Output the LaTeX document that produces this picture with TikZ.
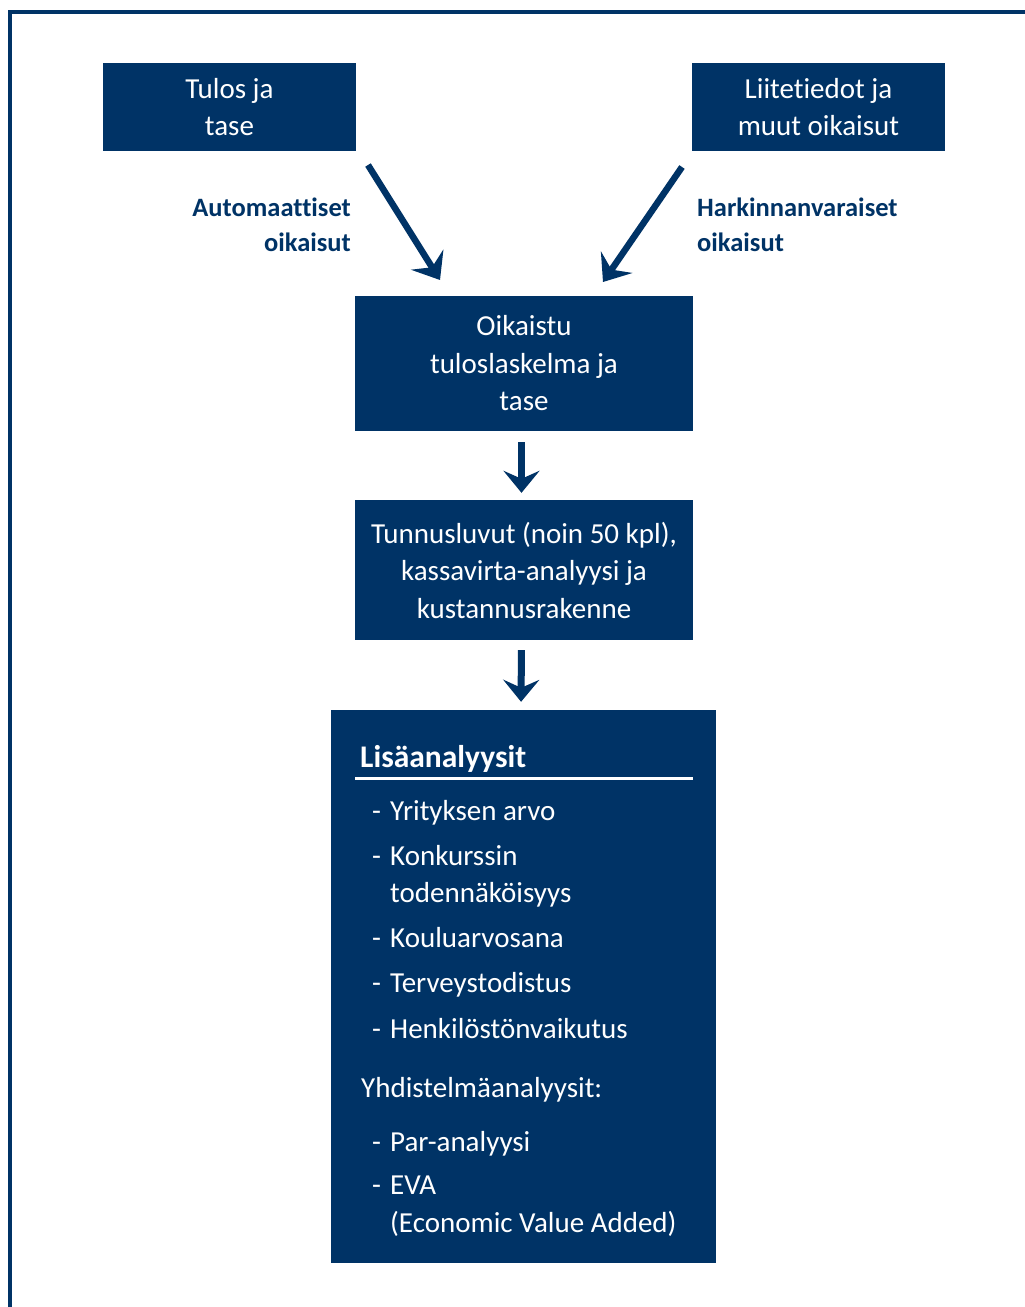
\documentclass[tikz,border=0pt]{standalone}
\usepackage{fontspec}
\setmainfont{Carlito}[Ligatures=NoCommon]
\usetikzlibrary{arrows.meta}
\definecolor{navy}{RGB}{0,51,102}
\begin{document}
\begin{tikzpicture}[x=1pt,y=-1pt,
 box/.style={fill=navy, text=white, align=center, inner sep=0pt, font=\fontsize{29}{37.5}\selectfont},
 lab/.style={text=navy, inner sep=0pt, font=\bfseries\fontsize{26.5}{35}\selectfont},
 arr/.style={draw=navy, line width=6.5pt, -{Stealth[length=24pt,width=38pt,inset=9pt]}},
 item/.style={text=white, anchor=base west, inner sep=0pt, font=\fontsize{29}{35}\selectfont},
 head/.style={text=white, anchor=base west, inner sep=0pt, font=\bfseries\fontsize{31.5}{35}\selectfont},
]
\useasboundingbox (0,0) rectangle (1025,1307);
\fill[white] (0,0) rectangle (1025,1307);
% frame
\draw[navy, line width=4pt] (1025,12) -- (10,12) -- (10,1307);

% boxes
\node[box, minimum width=253pt, minimum height=88pt] (b1) at (229.5,107) {Tulos ja\\tase};
\node[box, minimum width=253pt, minimum height=88pt] (b2) at (818.5,107) {Liitetiedot ja\\muut oikaisut};
\node[box, minimum width=338pt, minimum height=135pt] (b3) at (524,363.5) {Oikaistu\\tuloslaskelma ja\\tase};
\node[box, minimum width=338pt, minimum height=140pt] (b4) at (524,570) {Tunnusluvut (noin 50 kpl),\\kassavirta-analyysi ja\\kustannusrakenne};
\node[box, minimum width=385pt, minimum height=553pt] (b5) at (523.5,986.5) {};

% labels
\node[lab, align=right, anchor=east] (l1) at (351,225) {Automaattiset\\oikaisut};
\node[lab, align=left, anchor=west] (l2) at (697,225) {Harkinnanvaraiset\\oikaisut};

% arrows
\coordinate (a1s) at (368,165);
\coordinate (a1e) at (440,280);
\coordinate (a2s) at (682,167);
\coordinate (a2e) at (603,282);
\draw[arr] (a1s) -- (a1e);
\draw[arr] (a2s) -- (a2e);
\draw[arr, line width=7pt, -{Stealth[length=22pt,width=36pt,inset=8pt]}, shorten <=11pt, shorten >=7pt] ([xshift=-2.5pt]b3.south) -- ([xshift=-2.5pt]b4.north);
\draw[arr, line width=7pt, -{Stealth[length=22pt,width=36pt,inset=8pt]}, shorten <=10pt, shorten >=8pt] ([xshift=-2.5pt]b4.south) -- ([xshift=-2.5pt]b5.north);

% list content
\node[head] (h1) at (360,767) {Lisäanalyysit};
\draw[white, line width=3pt] (355,778.5) -- (693,778.5);
\node[item] (d1) at (372,820) {-};
\node[item] (t1) at (390,820) {Yrityksen arvo};
\node[item] (d2) at (372,865) {-};
\node[item] (t2) at (390,865) {Konkurssin};
\node[item] (t2b) at (390,902) {todennäköisyys};
\node[item] (d3) at (372,947) {-};
\node[item] (t3) at (390,947) {Kouluarvosana};
\node[item] (d4) at (372,992) {-};
\node[item] (t4) at (390,992) {Terveystodistus};
\node[item] (d5) at (372,1038) {-};
\node[item] (t5) at (390,1038) {Henkilöstönvaikutus};
\node[item] (h2) at (361,1097) {Yhdistelmäanalyysit:};
\node[item] (d6) at (372,1151) {-};
\node[item] (t6) at (390,1151) {Par-analyysi};
\node[item] (d7) at (372,1194) {-};
\node[item] (t7) at (390,1194) {EVA};
\node[item] (t7b) at (390,1232) {(Economic Value Added)};
\end{tikzpicture}
\end{document}
